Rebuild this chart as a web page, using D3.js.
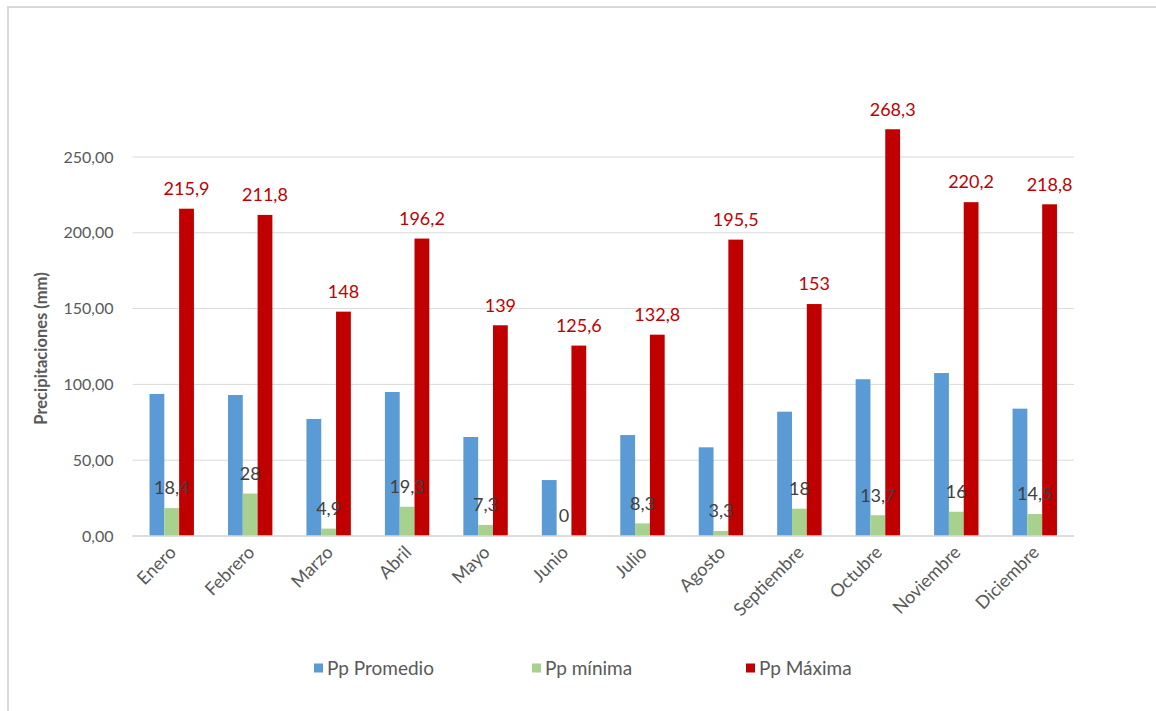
<!DOCTYPE html>
<html>
<head>
<meta charset="utf-8">
<script src="https://cdn.jsdelivr.net/npm/d3@7"></script>
<style>
  html, body { margin: 0; padding: 0; background: #ffffff; }
  svg { display: block; font-family: Lato, "Open Sans", sans-serif; }
</style>
</head>
<body>
<svg id="chart" width="1156" height="711"></svg>
<script>
// Monthly precipitation (mm)
const months = ["Enero", "Febrero", "Marzo", "Abril", "Mayo", "Junio", "Julio",
                "Agosto", "Septiembre", "Octubre", "Noviembre", "Diciembre"];
const ppPromedio = [93.7, 93.0, 77.2, 95.0, 65.3, 36.9, 66.6, 58.5, 82.0, 103.4, 107.5, 84.0];
const ppMinima   = [18.4, 28, 4.9, 19.3, 7.3, 0, 8.3, 3.3, 18, 13.7, 16, 14.5];
const ppMaxima   = [215.9, 211.8, 148, 196.2, 139, 125.6, 132.8, 195.5, 153, 268.3, 220.2, 218.8];
const yTicks = [0, 50, 100, 150, 200, 250];
const seriesNames = ["Pp Promedio", "Pp mínima", "Pp Máxima"];
const seriesColors = ["#5b9bd5", "#a9d18e", "#c00000"];

const svg = d3.select("#chart");
const fmtComma = (v, digits) => d3.format(digits != null ? `.${digits}f` : "")(v).replace(".", ",");

// chart frame
svg.append("rect")
  .attr("x", 8).attr("y", 7).attr("width", 1160).attr("height", 720)
  .attr("fill", "none").attr("stroke", "#d9d9d9").attr("stroke-width", 2);

const plot = { left: 132.5, right: 1074, top: 157, bottom: 536 };

const x0 = d3.scaleBand()
  .domain(months)
  .range([plot.left, plot.right])
  .paddingInner(0.434)
  .paddingOuter(0.217);

const x1 = d3.scaleBand()
  .domain(seriesNames)
  .range([0, x0.bandwidth()]);

const y = d3.scaleLinear()
  .domain([0, 250])
  .range([plot.bottom, plot.top]);

// gridlines
svg.append("g")
  .selectAll("line")
  .data(yTicks)
  .join("line")
  .attr("x1", plot.left).attr("x2", plot.right)
  .attr("y1", d => y(d)).attr("y2", d => y(d))
  .attr("stroke", "#d9d9d9").attr("stroke-width", 1);

// y axis labels
const yAxis = d3.axisLeft(y).tickValues(yTicks).tickSize(0).tickPadding(0)
  .tickFormat(d => fmtComma(d, 2));
svg.append("g")
  .attr("transform", `translate(${plot.left - 19},0)`)
  .call(yAxis)
  .call(g => g.select(".domain").remove())
  .call(g => g.selectAll("text")
    .attr("fill", "#595959").attr("font-size", "16px")
    .attr("font-family", "Lato, sans-serif"));

// y axis title
svg.append("text")
  .attr("transform", `translate(47,${(plot.top + plot.bottom) / 2 + 2}) rotate(-90)`)
  .attr("text-anchor", "middle")
  .attr("fill", "#595959")
  .attr("font-size", "16.5px")
  .attr("font-weight", "bold")
  .text("Precipitaciones (mm)");

// bars
const series = [ppPromedio, ppMinima, ppMaxima];
const rows = months.map((m, i) => ({
  month: m,
  values: seriesNames.map((s, k) => ({ key: s, value: series[k][i], color: seriesColors[k] }))
}));

const groups = svg.append("g")
  .selectAll("g")
  .data(rows)
  .join("g")
  .attr("transform", d => `translate(${x0(d.month)},0)`);

groups.selectAll("rect")
  .data(d => d.values)
  .join("rect")
  .attr("x", d => x1(d.key))
  .attr("y", d => y(d.value))
  .attr("width", x1.bandwidth())
  .attr("height", d => y(0) - y(d.value))
  .attr("fill", d => d.color);

// baseline
svg.append("line")
  .attr("x1", plot.left).attr("x2", plot.right)
  .attr("y1", y(0)).attr("y2", y(0))
  .attr("stroke", "#d9d9d9").attr("stroke-width", 1.5);

// value labels for minimum and maximum
const labelSpecs = [
  { idx: 1, color: "#404040" },
  { idx: 2, color: "#c00000" }
];
labelSpecs.forEach(spec => {
  const key = seriesNames[spec.idx];
  svg.append("g")
    .selectAll("text")
    .data(months.map((m, i) => ({ month: m, value: series[spec.idx][i] })))
    .join("text")
    .attr("x", d => x0(d.month) + x1(key) + x1.bandwidth() / 2)
    .attr("y", d => y(d.value) - 20)
    .attr("dy", "0.35em")
    .attr("text-anchor", "middle")
    .attr("fill", spec.color)
    .attr("font-size", "18px")
    .text(d => fmtComma(d.value));
});

// x axis labels
svg.append("g")
  .selectAll("text")
  .data(months)
  .join("text")
  .attr("transform", d => `translate(${x0(d) + x0.bandwidth() / 2 + 1},${plot.bottom + 13}) rotate(-45)`)
  .attr("text-anchor", "end")
  .attr("dy", "0.35em")
  .attr("fill", "#595959")
  .attr("font-size", "18px")
  .text(d => d);

// legend
const legendX = [314, 532, 746];
const legend = svg.append("g")
  .selectAll("g")
  .data(seriesNames)
  .join("g")
  .attr("transform", (d, i) => `translate(${legendX[i]},668)`);
legend.append("rect")
  .attr("x", 0).attr("y", -4.5).attr("width", 9).attr("height", 9)
  .attr("fill", (d, i) => seriesColors[i]);
legend.append("text")
  .attr("x", 13).attr("dy", "0.35em")
  .attr("fill", "#595959")
  .attr("font-size", "19px")
  .text(d => d);
</script>
</body>
</html>
